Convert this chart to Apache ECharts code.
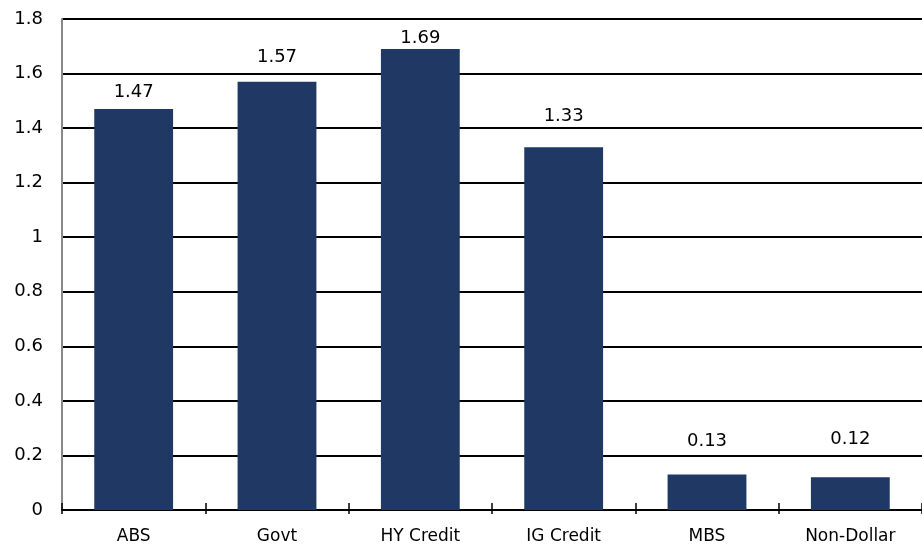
<!DOCTYPE html>
<html>
<head>
<meta charset="utf-8">
<script src="https://cdn.jsdelivr.net/npm/echarts@6/dist/echarts.min.js"></script>
<style>
  html, body { margin: 0; padding: 0; background: #fff; }
  #main { width: 922px; height: 545px; }
</style>
</head>
<body>
<div id="main"></div>
<script>
  var categories = ['ABS', 'Govt', 'HY Credit', 'IG Credit', 'MBS', 'Non-Dollar'];
  var values = [1.47, 1.57, 1.69, 1.33, 0.13, 0.12];
  // label spacing above each bar (px), as placed in the original
  var labelGap = [8, 15, 2, 22, 24, 29];

  var FONT = '"DejaVu Sans", Arial, sans-serif';
  var chart = echarts.init(document.getElementById('main'), null, { renderer: 'canvas' });

  var barData = values.map(function (v, i) {
    return { value: v, label: { distance: labelGap[i] } };
  });

  chart.setOption({
    animation: false,
    textStyle: { fontFamily: FONT },
    grid: { left: 62, right: 0, top: 19, bottom: 35, containLabel: false },
    xAxis: [{
      type: 'category',
      data: categories,
      axisLine: { lineStyle: { color: '#000', width: 2 } },
      axisTick: { show: true, alignWithLabel: false, length: 4, lineStyle: { color: '#000', width: 1.5 } },
      axisLabel: { color: '#000', fontSize: 17, margin: 18, fontFamily: FONT }
    }, {
      type: 'category',
      data: categories,
      position: 'bottom',
      axisLine: { show: false },
      axisTick: { show: true, inside: true, length: 7, lineStyle: { color: '#000', width: 1.5 } },
      axisLabel: { show: false }
    }],
    yAxis: {
      type: 'value',
      min: 0,
      max: 1.8,
      interval: 0.2,
      axisLine: { show: true, lineStyle: { color: '#888', width: 2 } },
      axisTick: { show: false },
      splitLine: { lineStyle: { color: '#000', width: 2 } },
      axisLabel: {
        color: '#000', fontSize: 18, margin: 19, fontFamily: FONT,
        formatter: function (v) { return String(Math.round(v * 10) / 10); }
      }
    },
    series: [{
      type: 'bar',
      data: barData,
      barWidth: '55%',
      itemStyle: { color: '#1f3864' },
      label: {
        show: true, position: 'top',
        color: '#000', fontSize: 18, fontFamily: FONT,
        formatter: function (p) { return p.value.toFixed(2); }
      }
    }]
  });
</script>
</body>
</html>
